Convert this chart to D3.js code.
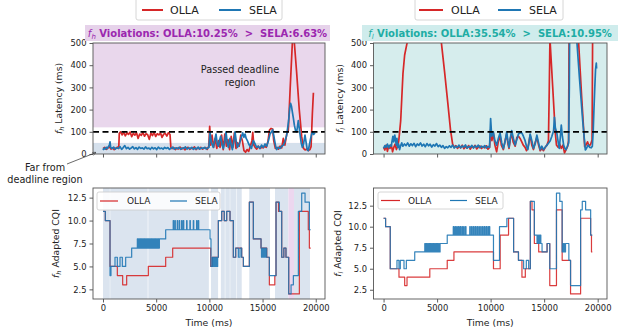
<!DOCTYPE html>
<html>
<head>
<meta charset="utf-8">
<script src="https://cdn.jsdelivr.net/npm/d3@7/dist/d3.min.js"></script>
<style>
  body { margin: 0; background: #fff; }
  svg { font-family: "DejaVu Sans", sans-serif; }
</style>
</head>
<body>
<svg id="chart" width="624" height="331"></svg>
<script>
// ---- data: [time ms, value] ----
const fhOllaLatency = [[0,24],[150,30],[300,21],[450,27],[600,33],[750,22],[900,28],[1050,20],[1200,26],[1350,31],[1480,25],
  [1530,92],[1650,100],[1800,86],[1950,97],[2100,82],[2250,95],[2400,88],[2550,99],[2700,78],[2850,93],[3000,85],[3150,96],[3300,70],[3450,90],[3600,84],[3750,97],[3900,80],[4050,92],[4200,87],[4350,66],[4500,94],[4650,83],[4800,98],[4950,79],[5100,91],[5250,86],[5400,95],[5550,75],[5700,89],[5850,93],[6000,81],[6150,96],[6300,88],[6380,30],
  [6500,24],[6650,29],[6800,20],[6950,27],[7100,23],[7250,31],[7400,22],[7550,28],[7700,19],[7850,26],[8000,30],[8150,21],[8300,27],[8450,24],[8600,32],[8750,20],[8900,28],[9050,23],[9200,30],[9350,22],[9500,26],[9650,29],[9800,21],[9950,35],
  [10030,125],[10120,40],[10250,85],[10400,30],[10550,70],[10700,25],[10850,60],[11000,30],[11150,85],[11300,20],[11450,90],[11600,35],[11750,65],[11900,20],[12050,80],[12200,30],[12350,95],[12500,25],[12650,50],[12800,35],[12950,85],[13100,60],[13250,15],[13400,8],[13550,20],[13700,12],[13850,35],[14000,60],[14080,98],[14180,40],[14300,30],[14450,22],[14600,35],[14750,25],[14900,30],[15050,28],[15200,35],[15350,30],[15500,55],[15650,108],[15800,115],[15950,112],[16050,60],[16200,25],[16350,30],[16500,22],[16650,35],[16800,28],[16950,70],[17100,40],[17270,90],
  [17420,105],[17600,300],[17800,500],[17900,515],[17990,500],[18200,370],[18450,200],[18680,78],[18850,25],[19000,18],[19150,22],[19300,15],[19450,20],[19560,33],[19680,180],[19780,276]];

const fhSelaLatency = [[0,18],[100,26],[200,22],[300,30],[400,24],[500,33],[600,40],[660,55],[720,30],[850,24],[1000,31],[1150,22],[1300,28],[1450,25],[1600,33],[1750,21],[1900,29],[2050,38],[2200,24],[2350,30],[2500,22],[2650,27],[2800,33],[2950,23],[3100,29],[3250,21],[3400,31],[3550,25],[3700,28],[3850,22],[4000,32],[4150,24],[4300,27],[4450,21],[4600,30],[4750,23],[4900,28],[5050,20],[5200,31],[5350,24],[5500,27],[5650,22],[5800,30],[5950,25],[6100,29],[6250,21],[6400,26],[6550,31],[6700,22],[6850,28],[7000,24],[7150,30],[7300,21],[7450,27],[7600,25],[7750,32],[7900,22],[8050,28],[8200,24],[8350,30],[8500,21],[8650,27],[8800,23],[8950,31],[9100,22],[9250,28],[9400,25],[9550,30],[9700,23],[9850,27],[9960,30],
  [10060,95],[10200,50],[10375,30],[10500,60],[10625,90],[10740,45],[10845,35],[10950,60],[11064,80],[11190,40],[11315,25],[11440,55],[11566,100],[11680,50],[11785,30],[11860,50],[11940,70],[12050,40],[12161,20],[12290,55],[12412,100],[12520,60],[12631,30],[12750,40],[12882,55],[13000,75],[13133,95],[13250,75],[13352,90],[13460,70],[13571,60],[13700,45],[13822,35],[13950,25],[14136,60],[14300,45],[14449,30],[14600,35],[14763,25],[14900,40],[15077,30],[15230,45],[15390,35],[15550,60],[15700,90],[15850,100],[15954,110],[16060,80],[16173,50],[16250,30],[16330,20],[16480,30],[16643,25],[16800,35],[16957,40],[17100,55],[17270,85],
  [17450,150],[17560,210],[17640,228],[17720,215],[17800,190],[17900,160],[17990,130],[18100,105],[18210,100],[18300,130],[18360,150],[18440,120],[18520,90],[18630,50],[18740,30],[18850,45],[18990,85],[19100,50],[19200,20],[19300,15],[19400,40],[19520,70],[19620,90],[19700,100],[19800,88],[19930,95]];

const flOllaLatency = [[0,30],[120,18],[240,40],[360,12],[480,35],[600,25],[720,42],[840,10],[960,30],[1080,45],[1200,20],[1320,35],[1420,60],
  [1500,100],[1600,150],[1700,250],[1813,363],[1969,446],[2188,498],[2400,600],[3000,900],[4000,1000],[5000,800],[5300,560],[5407,498],[5700,370],[6000,230],[6250,110],[6450,45],
  [6600,30],[6750,38],[6900,25],[7050,35],[7200,28],[7350,40],[7500,24],[7650,33],[7800,27],[7950,38],[8100,22],[8250,34],[8400,29],[8550,39],[8700,23],[8850,31],[9000,36],[9150,25],[9300,33],[9450,28],[9600,37],[9750,22],[9900,30],
  [10000,110],[10120,60],[10250,95],[10400,40],[10560,10],[10700,50],[10880,85],[11000,40],[11190,20],[11350,60],[11500,90],[11620,45],[11720,25],[11850,70],[11970,95],[12100,55],[12290,35],[12450,75],[12600,80],[12750,70],[12910,55],[13050,40],[13220,30],[13350,15],[13470,25],[13600,60],[13690,85],[13850,40],[14000,20],[14150,50],[14320,75],[14480,40],[14630,15],[14800,25],[14940,15],[15100,30],[15260,40],[15400,60],
  [15480,300],[15540,520],[15565,500],[15800,300],[16034,100],[16150,40],[16300,30],[16450,45],[16600,25],[16750,40],[16900,5],[17050,20],[17200,35],[17280,60],[17330,560],
  [17700,900],[18100,700],[18222,500],[18500,260],[18785,33],[18900,40],[19050,55],[19200,35],[19350,45],[19475,63],[19530,560],[19600,700]];

const flSelaLatency = [[0,25],[120,38],[240,30],[360,45],[480,28],[600,40],[720,35],[800,60],[875,80],[950,55],[1050,85],[1190,40],[1250,70],[1320,30],[1400,45],[1500,20],[1600,38],[1700,50],[1800,35],[1950,45],[2100,38],[2250,50],[2400,35],[2550,46],[2700,38],[2850,48],[3000,33],[3150,45],[3300,39],[3450,50],[3600,36],[3750,44],[3900,33],[4050,47],[4200,37],[4350,44],[4500,31],[4650,42],[4800,36],[4950,47],[5100,33],[5250,40],[5400,30],[5550,38],[5700,25],[5850,33],[6000,28],[6150,37],[6300,30],[6450,40],[6600,27],[6750,35],[6900,30],[7050,40],[7200,28],[7350,36],[7500,31],[7650,41],[7800,26],[7950,34],[8100,30],[8250,39],[8400,27],[8550,36],[8700,31],[8850,40],[9000,28],[9150,35],[9300,30],[9450,38],[9600,27],[9750,34],[9900,30],
  [10000,160],[10100,80],[10250,100],[10400,60],[10560,40],[10720,70],[10880,95],[11040,50],[11190,25],[11350,55],[11500,100],[11610,60],[11720,30],[11850,75],[11970,105],[12130,70],[12290,40],[12450,65],[12600,90],[12750,95],[12910,95],[13060,80],[13220,60],[13350,35],[13470,20],[13580,50],[13690,90],[13850,60],[14000,25],[14160,45],[14320,85],[14480,50],[14630,20],[14780,35],[14940,20],[15100,30],[15260,40],[15420,50],[15570,60],[15720,80],[15880,105],[15960,165],[16040,120],[16200,90],[16320,50],[16410,25],[16500,70],[16600,130],[16700,80],[16820,40],[16940,25],[17040,20],[17170,35],[17290,50],[17350,300],[17380,560],
  [17700,900],[18000,600],[18066,500],[18300,340],[18600,150],[18847,18],[18950,25],[19100,40],[19250,30],[19400,28],[19500,35],[19580,100],[19650,200],[19730,300],[19800,380],[19870,410],[19900,385]];

const fhOllaCqi = [[0,11],[220,10],[660,5],[1348,4],[1849,3],[2225,4],[4263,5],[5892,6],[6551,7],[10124,5],[10280,6],[10845,10],[11158,11],[11400,10],[11628,11],[11941,10],[12255,6],[12474,7],[13038,6],[13195,5],[13760,12],[14136,8],[14857,7],[15390,6],[15640,3],[16150,4],[16267,12],[16500,11],[16800,6],[17000,7],[17200,6],[17458,2],[18460,11],[19300,9],[19400,7],[19527,7]];

const fhSelaCqi = [[0,11],[220,10],[660,4],[750,5],[1128,6],[1348,5],[1600,6],[1818,5],[2131,6],[2695,7],
  [3228,8],[3290,7],[3350,8],[3420,7],[3480,8],[3550,7],[3610,8],[3680,7],[3740,8],[3810,7],[3870,8],[3940,7],[4000,8],[4070,7],[4130,8],[4200,7],[4260,8],[4330,7],[4390,8],[4460,7],[4520,8],[4590,7],[4650,8],[4720,7],[4780,8],[4850,7],[4910,8],[4980,7],[5040,8],[5110,7],[5170,8],[5240,7],[5300,8],
  [5892,9],[6600,10],[6640,9],[6760,10],[6800,9],[6980,10],[7020,9],[7170,10],[7210,9],[7390,10],[7430,9],[7550,10],[7590,9],[7860,10],[7900,9],[8170,10],[8210,9],[8490,10],[8530,9],[8800,10],[8840,9],[8960,10],[9000,9],
  [10062,8],[10150,5],[10280,6],[10330,5],[10380,6],[10430,5],[10480,6],[10530,5],[10580,6],[10630,5],[10680,6],[10730,5],[10780,6],
  [10845,10],[11158,11],[11400,10],[11628,11],[11941,10],[12255,6],[12474,7],[12725,6],[12882,7],[13038,6],[13195,5],[13760,12],[14136,8],[14857,7],
  [14900,6],[14950,7],[15000,6],[15050,7],[15100,6],[15150,7],[15200,6],[15250,7],[15300,6],[15350,7],[15390,6],
  [15640,4],[16267,12],[16580,11],[16800,6],[17000,7],[17200,6],[17458,2],[17678,3],[17897,4],[18367,11],[18680,13],[18994,12],[19401,9],[19527,9]];

const flOllaCqi = [[0,11],[188,10],[626,5],[1440,4],[1972,3],[2191,4],[4319,5],[5947,6],[6573,7],[10266,5],[10892,9],[11674,11],[12144,7],[12600,6],[12926,4],[13240,5],[13709,13],[13865,12],[14085,8],[14490,7],[15274,8],[15524,3],[16150,12],[16682,6],[17308,6],[17465,2],[18404,11],[19343,9],[19420,7],[19499,7]];

const flSelaCqi = [[0,11],[188,10],[626,5],[1252,6],[1440,5],[1565,6],[1909,5],[2128,6],[2911,7],
  [3850,8],[3920,7],[3980,8],[4050,7],[4110,8],[4180,7],[4240,8],[4310,7],[4370,8],[4440,7],[4500,8],[4570,7],[4630,8],[4700,7],[4760,8],[4830,7],[4890,8],[4960,7],[5020,8],[5090,7],[5150,8],[5220,7],[5280,8],
  [5947,9],[6510,10],[6570,9],[6680,10],[6720,9],[6830,10],[6880,9],[6990,10],[7040,9],[7150,10],[7200,9],[7320,10],[7370,9],[7480,10],[7530,9],[7650,10],[7700,9],[8050,10],[8100,9],[8220,10],[8270,9],[8390,10],[8440,9],[8560,10],[8610,9],[8730,10],[8780,9],[8900,10],[8950,9],[9070,10],[9120,9],[9240,10],[9290,9],[9410,10],[9460,9],[9580,10],[9630,9],[9750,10],[9800,9],[9880,10],[9920,9],
  [10266,6],[10829,10],[11518,11],[12144,7],[12600,6],[13083,5],[13333,6],[13552,5],[13709,13],[14085,9],
  [14335,8],[14400,9],[14450,8],[14520,9],[14570,8],[14640,9],[14690,8],[14804,7],[15274,8],[15524,5],[16150,14],[16463,13],
  [16682,7],[16740,8],[16790,7],[16850,8],[16900,7],[16995,8],[17308,6],[17465,3],[18404,12],[18560,13],[18873,12],[19343,9],[19499,9]];

// shaded time spans in the f_h CQI panel
const farSpans = [[0,640],[680,4200],[4260,9950],[10150,10820],[11080,11450],[11500,11920],[11960,12550],[12600,13040],[13750,15700],[16170,17430],[17960,19460]];
const passedSpans = [[17430,17960]];

const timeTicks = [0, 5000, 10000, 15000, 20000];
const latencyTicks = [0, 100, 200, 300, 400, 500];
const cqiTicks = [2.5, 5, 7.5, 10, 12.5];
const deadline = 100;
const farLimit = 50, passedLimit = 120;

const RED = '#d62728', BLUE = '#1f77b4';
const timeDomain = [-940, 20870];

const svg = d3.select('#chart');

function fLabel(sel, sub, rest, size, bold) {
  sel.append('tspan').attr('font-style', 'italic').attr('font-weight', 'normal').text('f');
  sel.append('tspan').attr('font-style', 'italic').attr('font-weight', 'normal')
    .attr('font-size', size * 0.7).attr('dy', size * 0.22).text(sub);
  sel.append('tspan').attr('dy', -size * 0.22).attr('font-weight', bold ? 'bold' : 'normal')
    .style('white-space', 'pre').text(rest);
}

function drawPanel(p) {
  const x = d3.scaleLinear().domain(timeDomain).range(p.xr);
  const y = d3.scaleLinear().domain(p.yd).range(p.yr);
  const g = svg.append('g');

  g.append('clipPath').attr('id', 'clip-' + p.id)
    .append('rect')
    .attr('x', p.xr[0]).attr('y', p.yr[1])
    .attr('width', p.xr[1] - p.xr[0]).attr('height', p.yr[0] - p.yr[1]);

  const inner = g.append('g').attr('clip-path', `url(#clip-${p.id})`);

  if (p.bg) {
    inner.append('rect')
      .attr('x', p.xr[0]).attr('y', p.yr[1])
      .attr('width', p.xr[1] - p.xr[0]).attr('height', p.yr[0] - p.yr[1])
      .attr('fill', p.bg);
  }
  (p.hbands || []).forEach(b => {
    inner.append('rect')
      .attr('x', p.xr[0]).attr('width', p.xr[1] - p.xr[0])
      .attr('y', y(b[1])).attr('height', y(b[0]) - y(b[1]))
      .attr('fill', b[2]);
  });
  (p.vbands || []).forEach(b => {
    inner.selectAll(null)
      .data(b.spans)
      .enter().append('rect')
      .attr('x', d => x(d[0]))
      .attr('width', d => x(d[1]) - x(d[0]))
      .attr('y', p.yr[1]).attr('height', p.yr[0] - p.yr[1])
      .attr('fill', b.color);
  });

  p.series.forEach(s => {
    const line = d3.line()
      .x(d => x(d[0]))
      .y(d => y(d[1]))
      .curve(p.step ? d3.curveStepAfter : d3.curveLinear);
    inner.append('path')
      .datum(s.data)
      .attr('d', line)
      .attr('fill', 'none')
      .attr('stroke', s.color)
      .attr('stroke-width', p.lw)
      .attr('stroke-opacity', s.opacity || 1)
      .attr('stroke-linejoin', 'round');
  });

  if (p.deadline) {
    inner.append('line')
      .attr('x1', p.xr[0]).attr('x2', p.xr[1])
      .attr('y1', y(deadline)).attr('y2', y(deadline))
      .attr('stroke', '#000').attr('stroke-width', 1.8)
      .attr('stroke-dasharray', '6,3.5');
  }

  // axes
  const xAxis = g.append('g')
    .attr('transform', `translate(0,${p.yr[0]})`)
    .call(d3.axisBottom(x).tickValues(timeTicks).tickSize(3.5).tickPadding(3)
      .tickFormat(p.xLabels ? d3.format('d') : ''));
  const yAxis = g.append('g')
    .attr('transform', `translate(${p.xr[0]},0)`)
    .call(d3.axisLeft(y).tickValues(p.yTicks).tickSize(3.5).tickPadding(3)
      .tickFormat(p.yFormat));
  [xAxis, yAxis].forEach(a => {
    a.select('.domain').remove();
    a.selectAll('.tick line').attr('stroke', '#333').attr('stroke-width', 0.8);
    a.selectAll('.tick text').attr('fill', '#222').attr('font-size', 8.4)
      .attr('font-family', '"DejaVu Sans", sans-serif');
  });

  g.append('rect')
    .attr('x', p.xr[0]).attr('y', p.yr[1])
    .attr('width', p.xr[1] - p.xr[0]).attr('height', p.yr[0] - p.yr[1])
    .attr('fill', 'none').attr('stroke', '#555').attr('stroke-width', 0.9);

  const yl = g.append('text')
    .attr('transform', `translate(${p.yLabelX},${(p.yr[0] + p.yr[1]) / 2}) rotate(-90)`)
    .attr('text-anchor', 'middle')
    .attr('font-size', 9.3).attr('fill', '#222');
  fLabel(yl, p.sub, p.yLabel, 9.3, false);

  if (p.xLabels) {
    g.append('text')
      .attr('x', (p.xr[0] + p.xr[1]) / 2).attr('y', 326)
      .attr('text-anchor', 'middle').attr('font-size', 9.3).attr('fill', '#222')
      .text('Time (ms)');
  }
  return { x, y, g };
}

function drawLegend(cfg) {
  const g = svg.append('g');
  g.append('rect')
    .attr('x', cfg.x0).attr('y', cfg.y0)
    .attr('width', cfg.x1 - cfg.x0).attr('height', cfg.y1 - cfg.y0)
    .attr('rx', 2).attr('fill', '#fff').attr('fill-opacity', 0.85)
    .attr('stroke', '#ccc').attr('stroke-width', 0.8);
  cfg.items.forEach(it => {
    g.append('line')
      .attr('x1', it.l0).attr('x2', it.l1)
      .attr('y1', cfg.cy).attr('y2', cfg.cy)
      .attr('stroke', it.color).attr('stroke-width', cfg.lw);
    g.append('text')
      .attr('x', it.tx).attr('y', cfg.cy + cfg.size * 0.36)
      .attr('font-size', cfg.size).attr('fill', '#222')
      .text(it.name);
  });
}

function drawTitle(cfg) {
  svg.append('rect')
    .attr('x', cfg.x0).attr('y', 25)
    .attr('width', cfg.x1 - cfg.x0).attr('height', 16)
    .attr('fill', cfg.bg);
  const t = svg.append('text')
    .attr('x', (cfg.x0 + cfg.x1) / 2).attr('y', 36.8)
    .attr('text-anchor', 'middle')
    .attr('font-size', 10).attr('fill', cfg.color);
  fLabel(t, cfg.sub, cfg.text, 10, true);
}

// ---- top row: latency ----
drawPanel({
  id: 'fhLat', xr: [93, 325], yr: [154, 43], yd: [0, 500],
  yTicks: latencyTicks, yFormat: d3.format('d'), xLabels: false,
  bg: '#e9d7ec',
  hbands: [[0, farLimit, '#d5e0ec'], [farLimit, passedLimit, '#ffffff']],
  series: [{ data: fhOllaLatency, color: RED }, { data: fhSelaLatency, color: BLUE }],
  lw: 1.7, deadline: true,
  sub: 'h', yLabel: ' Latency (ms)', yLabelX: 62
});

drawPanel({
  id: 'flLat', xr: [373.5, 607], yr: [154, 43], yd: [0, 500],
  yTicks: latencyTicks, yFormat: d3.format('d'), xLabels: false,
  bg: '#d6eded',
  series: [{ data: flOllaLatency, color: RED }, { data: flSelaLatency, color: BLUE }],
  lw: 1.7, deadline: true,
  sub: 'l', yLabel: ' Latency (ms)', yLabelX: 343
});

// ---- bottom row: adapted CQI ----
drawPanel({
  id: 'fhCqi', xr: [93, 325], yr: [299, 188], yd: [1.45, 13.55],
  yTicks: cqiTicks, yFormat: d3.format('.1f'), xLabels: true,
  vbands: [{ spans: farSpans, color: '#dbe4ef' }, { spans: passedSpans, color: '#ecd7ef' }],
  series: [{ data: fhOllaCqi, color: RED, opacity: 0.9 }, { data: fhSelaCqi, color: BLUE, opacity: 0.9 }],
  lw: 1.2, step: true,
  sub: 'h', yLabel: ' Adapted CQI', yLabelX: 59
});

drawPanel({
  id: 'flCqi', xr: [373.5, 607], yr: [299, 188], yd: [1.4, 14.6],
  yTicks: cqiTicks, yFormat: d3.format('.1f'), xLabels: true,
  series: [{ data: flOllaCqi, color: RED, opacity: 0.9 }, { data: flSelaCqi, color: BLUE, opacity: 0.9 }],
  lw: 1.2, step: true,
  sub: 'l', yLabel: ' Adapted CQI', yLabelX: 341
});

// titles
drawTitle({ x0: 85, x1: 330, bg: '#e6d2ea', color: '#9b27af', sub: 'h',
  text: ' Violations: OLLA:10.25%  >  SELA:6.63%' });
drawTitle({ x0: 362, x1: 618, bg: '#cfecec', color: '#20aca4', sub: 'l',
  text: ' Violations: OLLA:35.54%  >  SELA:10.95%' });

// legends
drawLegend({ x0: 136, x1: 282, y0: -3, y1: 20, cy: 10, size: 11, lw: 2,
  items: [{ name: 'OLLA', color: RED, l0: 142, l1: 163, tx: 170 },
          { name: 'SELA', color: BLUE, l0: 219, l1: 241, tx: 249 }] });
drawLegend({ x0: 415, x1: 563, y0: -3, y1: 20, cy: 10, size: 11, lw: 2,
  items: [{ name: 'OLLA', color: RED, l0: 419, l1: 443, tx: 451 },
          { name: 'SELA', color: BLUE, l0: 498, l1: 521, tx: 529 }] });
drawLegend({ x0: 97, x1: 220, y0: 192, y1: 210, cy: 201, size: 9, lw: 1.2,
  items: [{ name: 'OLLA', color: RED, l0: 100, l1: 118, tx: 127 },
          { name: 'SELA', color: BLUE, l0: 170, l1: 187, tx: 195 }] });
drawLegend({ x0: 378, x1: 503, y0: 192, y1: 209, cy: 200.5, size: 9, lw: 1.2,
  items: [{ name: 'OLLA', color: RED, l0: 381, l1: 400, tx: 408 },
          { name: 'SELA', color: BLUE, l0: 450, l1: 467, tx: 475 }] });

// annotations
svg.append('text').attr('x', 240).attr('y', 72.5).attr('text-anchor', 'middle')
  .attr('font-size', 9.7).attr('fill', '#222').text('Passed deadline');
svg.append('text').attr('x', 240).attr('y', 86).attr('text-anchor', 'middle')
  .attr('font-size', 9.7).attr('fill', '#222').text('region');
svg.append('text').attr('x', 45).attr('y', 170.5).attr('text-anchor', 'middle')
  .attr('font-size', 9.7).attr('fill', '#222').text('Far from');
svg.append('text').attr('x', 45).attr('y', 182.5).attr('text-anchor', 'middle')
  .attr('font-size', 9.7).attr('fill', '#222').text('deadline region');

svg.append('defs').append('marker')
  .attr('id', 'arrow').attr('viewBox', '0 0 10 10')
  .attr('refX', 9).attr('refY', 5)
  .attr('markerWidth', 5).attr('markerHeight', 5)
  .attr('orient', 'auto')
  .append('path').attr('d', 'M0,1L10,5L0,9').attr('fill', 'none')
  .attr('stroke', '#444').attr('stroke-width', 1.5);
svg.append('line')
  .attr('x1', 67).attr('y1', 164).attr('x2', 96).attr('y2', 152.5)
  .attr('stroke', '#444').attr('stroke-width', 0.8)
  .attr('marker-end', 'url(#arrow)');
</script>
</body>
</html>
